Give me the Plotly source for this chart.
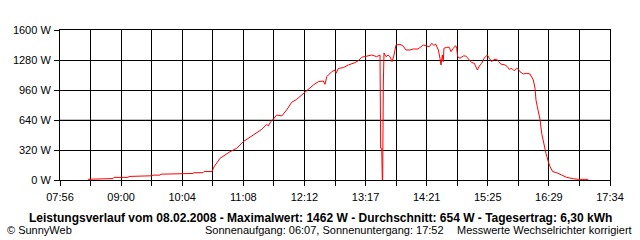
import plotly.graph_objects as go
import pandas as pd

DAY = "2008-02-08"

times = [
    "08:25:24", "08:38:00", "08:39:06", "08:51:42", "08:52:42", "09:07:30", "09:08:30", "09:23:12",
    "09:24:18", "09:26:24", "09:28:30", "09:32:42", "09:33:42", "09:41:06", "09:42:06", "10:09:30",
    "10:10:30", "10:15:48", "10:16:48", "10:26:18", "10:27:18", "10:35:42", "10:37:48", "10:44:06",
    "10:54:42", "11:01:42", "11:08:36", "11:13:54", "11:22:42", "11:28:00", "11:33:12", "11:34:54",
    "11:37:24", "11:39:30", "11:43:42", "11:49:00", "11:54:12", "11:59:30", "12:04:48", "12:11:42",
    "12:16:54", "12:22:12", "12:27:30", "12:32:42", "12:34:30", "12:36:18", "12:41:30", "12:45:00",
    "12:46:06", "12:48:30", "12:53:42", "12:59:00", "13:06:00", "13:09:30", "13:13:06", "13:18:18",
    "13:23:36", "13:28:48", "13:32:18", "13:33:00", "13:34:06", "13:34:42", "13:35:06", "13:35:48",
    "13:36:30", "13:38:36", "13:40:42", "13:42:48", "13:44:54", "13:47:00", "13:49:06", "13:53:18",
    "13:56:30", "13:59:36", "14:03:48", "14:07:00", "14:12:12", "14:17:48", "14:21:24", "14:24:06",
    "14:26:36", "14:29:00", "14:30:48", "14:33:36", "14:35:18", "14:36:24", "14:37:48", "14:38:48",
    "14:39:30", "14:42:24", "14:45:06", "14:46:54", "14:49:18", "14:51:48", "14:52:54", "14:53:54",
    "14:56:24", "14:59:48", "15:02:24", "15:05:06", "15:08:42", "15:11:24", "15:14:36", "15:16:42",
    "15:19:12", "15:21:36", "15:25:06", "15:27:12", "15:29:42", "15:32:06", "15:34:54", "15:37:24",
    "15:39:06", "15:43:42", "15:46:06", "15:48:12", "15:50:42", "15:53:06", "15:56:00", "15:57:36",
    "15:59:24", "16:02:54", "16:06:24", "16:09:54", "16:12:48", "16:13:24", "16:15:12", "16:16:12",
    "16:17:36", "16:19:24", "16:20:24", "16:22:12", "16:24:36", "16:26:42", "16:29:12", "16:31:00",
    "16:33:48", "16:38:00", "16:43:12", "16:48:30", "16:55:30", "17:00:42", "17:11:12",
]

power_w = [
    8, 8, 15, 15, 28, 28, 38, 38,
    45, 40, 45, 45, 52, 52, 62, 62,
    70, 70, 78, 78, 90, 90, 139, 231,
    302, 338, 409, 444, 508, 540, 593, 576,
    622, 640, 693, 683, 747, 829, 861, 925,
    967, 1013, 1049, 1056, 1021, 1102, 1155, 1173,
    1138, 1191, 1198, 1227, 1252, 1273, 1309, 1323,
    1333, 1316, 1333, 338, 338, 0, 0, 1035,
    1355, 1315, 1333, 1315, 1262, 1333, 1440, 1447,
    1430, 1387, 1387, 1397, 1397, 1440, 1430, 1422,
    1458, 1436, 1450, 1387, 1298, 1227, 1333, 1262,
    1405, 1415, 1415, 1369, 1405, 1433, 1405, 1315,
    1298, 1323, 1323, 1287, 1252, 1245, 1173, 1216,
    1245, 1298, 1333, 1298, 1262, 1287, 1287, 1262,
    1237, 1227, 1209, 1181, 1191, 1166, 1191, 1181,
    1155, 1131, 1138, 1131, 1085, 1067, 978, 853,
    782, 711, 650, 498, 373, 284, 195, 142,
    89, 78, 53, 28, 14, 7, 7,
]

x_start = "07:56"
x_end = "17:34"
x_labels = ["07:56", "09:00", "10:04", "11:08", "12:12", "13:17", "14:21", "15:25", "16:29", "17:34"]
y_ticks = [0, 320, 640, 960, 1280, 1600]
y_labels = ["0 W", "320 W", "640 W", "960 W", "1280 W", "1600 W"]

title_text = "Leistungsverlauf vom 08.02.2008 - Maximalwert: 1462 W - Durchschnitt: 654 W - Tagesertrag: 6,30 kWh"
footer_left = "© SunnyWeb"
footer_mid = "Sonnenaufgang: 06:07, Sonnenuntergang: 17:52"
footer_right = "Messwerte Wechselrichter korrigiert"

x = [f"{DAY} {t}" for t in times]
t0 = pd.Timestamp(f"{DAY} {x_start}")
t1 = pd.Timestamp(f"{DAY} {x_end}")
n_int = 2 * (len(x_labels) - 1)
tickvals = [t0 + (t1 - t0) * i / n_int for i in range(n_int + 1)]
ticktext = []
for i in range(n_int + 1):
    ticktext.append(x_labels[i // 2] if i % 2 == 0 else "")

FONT = "Liberation Sans, Arial, sans-serif"

fig = go.Figure()
fig.add_trace(go.Scatter(x=x, y=power_w, mode="lines",
                         line=dict(color="#ff0000", width=1), hoverinfo="skip"))

fig.update_layout(
    width=640, height=240,
    margin=dict(l=60, r=30, t=30, b=60),
    paper_bgcolor="white", plot_bgcolor="white",
    showlegend=False,
    font=dict(family=FONT, size=11, color="black"),
)
fig.update_xaxes(
    type="date", range=[t0, t1],
    tickmode="array", tickvals=tickvals, ticktext=ticktext,
    showgrid=True, gridcolor="black", gridwidth=1,
    showline=True, linecolor="black", linewidth=1, mirror=True,
    ticks="outside", ticklen=5, tickcolor="black", tickwidth=1,
    ticklabelstandoff=2,
    tickfont=dict(family=FONT, size=11, color="black"),
    fixedrange=True,
)
fig.update_yaxes(
    range=[0, 1600],
    tickmode="array", tickvals=y_ticks, ticktext=y_labels,
    showgrid=True, gridcolor="black", gridwidth=1,
    zeroline=True, zerolinecolor="black", zerolinewidth=1,
    showline=True, linecolor="black", linewidth=1, mirror=True,
    ticks="outside", ticklen=5, tickcolor="black", tickwidth=1,
    ticklabelstandoff=1,
    tickfont=dict(family=FONT, size=11, color="black"),
    fixedrange=True,
)
fig.add_shape(type="line", xref="paper", yref="y", x0=0, x1=1, y0=y_ticks[2], y1=y_ticks[2],
              line=dict(color="#808080", width=1), layer="below")

fig.add_annotation(text=f"<b>{title_text}</b>", xref="paper", yref="paper",
                   x=260 / 550, y=-0.25, xanchor="center", yanchor="middle", showarrow=False,
                   font=dict(family=FONT, size=12, color="black"))
fig.add_annotation(text=footer_left, xref="paper", yref="paper",
                   x=-55 / 550, y=-0.33, xanchor="left", yanchor="middle", showarrow=False,
                   font=dict(family=FONT, size=11, color="black"))
fig.add_annotation(text=footer_mid, xref="paper", yref="paper",
                   x=143 / 550, y=-0.33, xanchor="left", yanchor="middle", showarrow=False,
                   font=dict(family=FONT, size=11, color="black"))
fig.add_annotation(text=footer_right, xref="paper", yref="paper",
                   x=574 / 550, y=-0.33, xanchor="right", yanchor="middle", showarrow=False,
                   font=dict(family=FONT, size=11, color="black"))

fig.write_html("out.html")
